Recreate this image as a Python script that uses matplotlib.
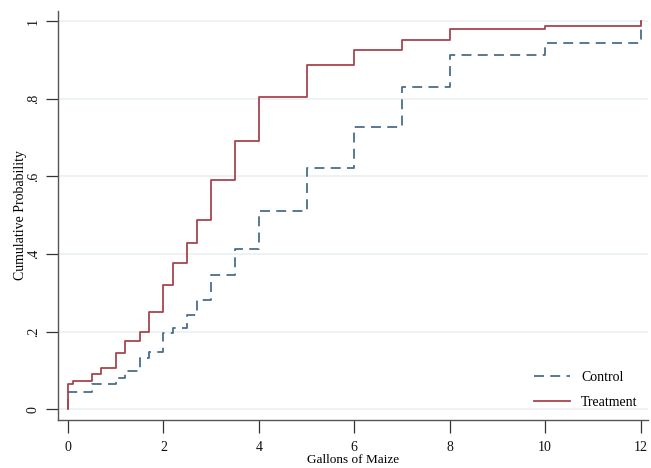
import numpy as np
import matplotlib
matplotlib.use("Agg")
import matplotlib.pyplot as plt

# Step points (gallons, cumulative probability)
ctrl_x = [0, 0, 0.5, 1.0, 1.2, 1.5, 1.7, 2.0, 2.2, 2.5, 2.7, 3.0, 3.5, 4.0, 5.0, 6.0, 7.0, 8.0, 10.0, 12.0, 12.0]
ctrl_y = [0.0, 0.045, 0.064, 0.081, 0.099, 0.133, 0.148, 0.196, 0.210, 0.243, 0.282, 0.345,
          0.413, 0.511, 0.623, 0.727, 0.831, 0.913, 0.945, 0.950, 1.0]

treat_x = [0, 0, 0.1, 0.5, 0.7, 1.0, 1.2, 1.5, 1.7, 2.0, 2.2, 2.5, 2.7, 3.0, 3.5, 4.0, 5.0, 6.0, 7.0, 8.0, 10.0, 12.0, 12.0]
treat_y = [0.0, 0.064, 0.073, 0.090, 0.106, 0.146, 0.176, 0.199, 0.250, 0.320, 0.376, 0.428,
           0.488, 0.590, 0.691, 0.804, 0.887, 0.926, 0.953, 0.980, 0.988, 0.990, 1.0]

yticks = [0, 0.2, 0.4, 0.6, 0.8, 1.0]
ytick_labels = ["0", ".2", ".4", ".6", ".8", "1"]
xticks = [0, 2, 4, 6, 8, 10, 12]

plt.rcParams['font.family'] = ['Liberation Serif', 'DejaVu Serif']

fig = plt.figure(figsize=(6.51, 4.68), dpi=100)
ax = fig.add_axes([0.089, 0.1026, 0.906, 0.874])

blue = "#4a6d8c"
red = "#a8444e"

ax.step(ctrl_x, ctrl_y, where="post", color=blue, lw=1.3,
        dashes=(5.5, 3.5), label="Control")
ax.step(treat_x, treat_y, where="post", color=red, lw=1.3, label="Treatment")

ax.set_xlim(-0.21, 12.15)
ax.set_ylim(-0.0276, 1.0266)

for yv in yticks:
    ax.axhline(yv, color="#eaf1f3", lw=1.2, zorder=0)

ax.set_yticks(yticks)
ax.set_yticklabels(ytick_labels, rotation=90, va="center")
ax.set_xticks(xticks)

for s in ["top", "right"]:
    ax.spines[s].set_visible(False)
for s in ["left", "bottom"]:
    ax.spines[s].set_color("#555555")
    ax.spines[s].set_linewidth(1.0)

ax.tick_params(axis="both", direction="out", length=9, width=0.9,
               color="#333333", labelsize=10, labelcolor="#111111")
ax.tick_params(axis="x", pad=6)
ax.tick_params(axis="y", pad=4)

ax.set_xlabel("Gallons of Maize", fontsize=9.5, labelpad=0)
ax.set_ylabel("Cumulative Probability", fontsize=10, labelpad=0)

ax.legend(loc="lower right", frameon=False, fontsize=10, handlelength=2.6,
          handletextpad=0.8, bbox_to_anchor=(1.004, -0.003), labelspacing=0.85)

fig.savefig("out.png", dpi=100)
